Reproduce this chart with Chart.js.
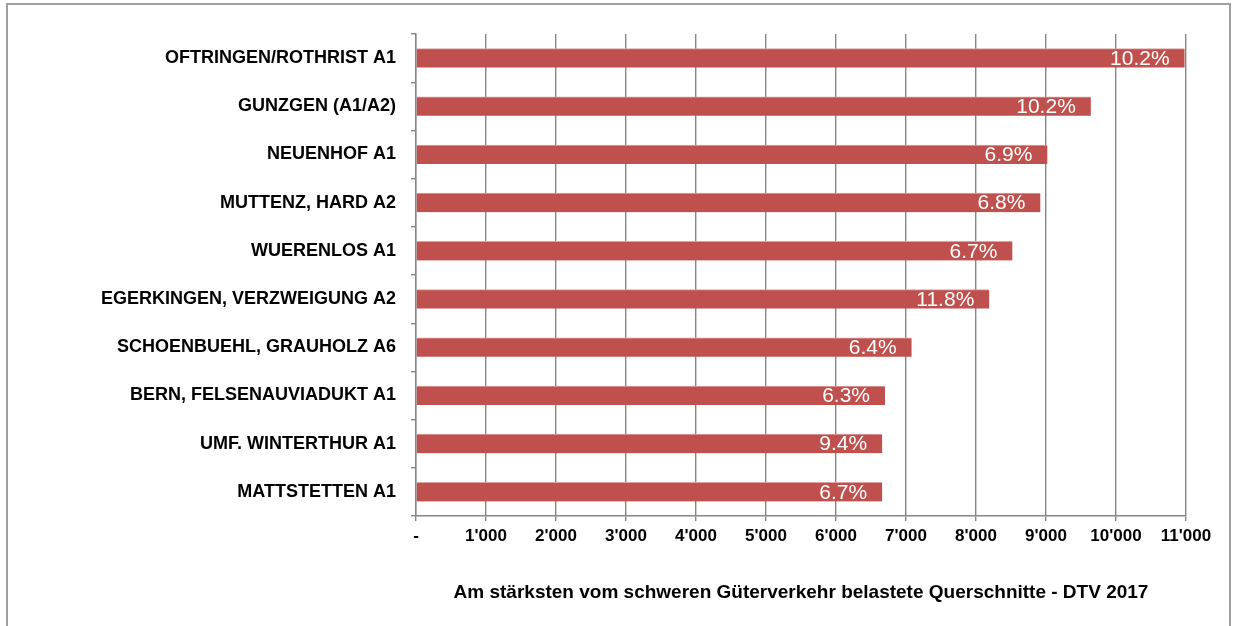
<!DOCTYPE html>
<html>
<head>
<meta charset="utf-8">
<script src="https://cdn.jsdelivr.net/npm/chart.js@4.4.1/dist/chart.umd.min.js"></script>
<style>
  html, body { margin: 0; padding: 0; background: #fff; }
  #wrap { position: relative; width: 1235px; height: 626px; overflow: hidden; }
  #frame { position: absolute; left: 6px; top: 3px; width: 1225px; height: 700px; border: 2px solid #a0a0a0; box-sizing: border-box; }
  canvas { position: absolute; left: 0; top: 0; }
</style>
</head>
<body>
<div id="wrap">
  <div id="frame"></div>
  <canvas id="chart" width="1235" height="626"></canvas>
</div>
<script>
// ── data ──
const sections = [
  'OFTRINGEN/ROTHRIST A1',
  'GUNZGEN (A1/A2)',
  'NEUENHOF A1',
  'MUTTENZ, HARD A2',
  'WUERENLOS A1',
  'EGERKINGEN, VERZWEIGUNG A2',
  'SCHOENBUEHL, GRAUHOLZ A6',
  'BERN, FELSENAUVIADUKT A1',
  'UMF. WINTERTHUR A1',
  'MATTSTETTEN A1'
];
const dtvHeavy = [10980, 9640, 9020, 8920, 8520, 8190, 7080, 6700, 6660, 6660];
const shareLabels = ['10.2%', '10.2%', '6.9%', '6.8%', '6.7%', '11.8%', '6.4%', '6.3%', '9.4%', '6.7%'];
const xMax = 11000;
const xStep = 1000;

const BAR_RED = '#C0504D';
const GRID = '#868686';
const FONT = '"Liberation Sans", Arial, sans-serif';

// thousands with apostrophe, 0 shown as "-"
const fmtTick = v => v === 0 ? '-' : String(v).replace(/\B(?=(\d{3})+(?!\d))/g, "'");

// ── labels inside bar ends ──
const endLabels = {
  id: 'endLabels',
  afterDatasetsDraw(chart) {
    const ctx = chart.ctx;
    const meta = chart.getDatasetMeta(0);
    ctx.save();
    ctx.font = '21px ' + FONT;
    ctx.fillStyle = '#ffffff';
    ctx.textAlign = 'right';
    ctx.textBaseline = 'middle';
    meta.data.forEach((bar, i) => {
      ctx.fillText(shareLabels[i], bar.x - 15, bar.y + 1);
    });
    ctx.restore();
  }
};

new Chart(document.getElementById('chart'), {
  type: 'bar',
  data: {
    labels: sections,
    datasets: [{
      data: dtvHeavy,
      backgroundColor: BAR_RED,
      borderColor: '#dca3a1',
      borderWidth: { top: 1, right: 0, bottom: 0, left: 0 },
      borderSkipped: false,
      barThickness: 19
    }]
  },
  options: {
    indexAxis: 'y',
    responsive: false,
    animation: false,
    layout: { padding: { top: 34, right: 49, bottom: 0, left: 0 } },
    plugins: {
      legend: { display: false },
      tooltip: { enabled: false }
    },
    scales: {
      x: {
        min: 0, max: xMax,
        afterFit: s => { s.height = 110; },
        grid: { color: GRID, lineWidth: 1.4, tickLength: 5, drawOnChartArea: true },
        border: { color: GRID, width: 1.4 },
        ticks: {
          stepSize: xStep,
          padding: 5,
          color: '#000',
          font: { family: FONT, size: 17, weight: 'bold' },
          callback: v => fmtTick(v)
        },
        title: {
          display: true,
          text: 'Am stärksten vom schweren Güterverkehr belastete Querschnitte - DTV 2017',
          color: '#000',
          font: { family: FONT, size: 19, weight: 'bold' },
          padding: { top: 0, bottom: 22 }
        }
      },
      y: {
        afterFit: s => { s.width = 416; },
        grid: { color: GRID, lineWidth: 1.4, tickLength: 5, drawOnChartArea: false, offset: true },
        border: { color: GRID, width: 1.4 },
        ticks: {
          padding: 15,
          color: '#000',
          font: { family: FONT, size: 18, weight: 'bold' }
        }
      }
    }
  },
  plugins: [endLabels]
});
</script>
</body>
</html>
